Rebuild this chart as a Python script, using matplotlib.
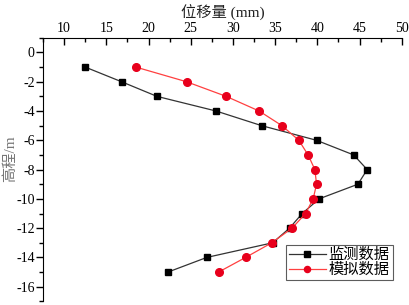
import matplotlib
matplotlib.use("Agg")
import matplotlib.pyplot as plt
from matplotlib.ticker import MultipleLocator

plt.rcParams['font.family'] = ['Liberation Serif', 'Noto Sans CJK SC']
plt.rcParams['axes.unicode_minus'] = False

depth = [-1, -2, -3, -4, -5, -6, -7, -8, -9, -10, -11, -12, -13, -14, -15]
monitor = [12.5, 16.8, 21.0, 28.0, 33.4, 39.9, 44.3, 45.9, 44.8, 40.2, 38.2, 36.7, 34.7, 26.9, 22.3]
simulate = [18.5, 24.5, 29.2, 33.1, 35.8, 37.8, 38.9, 39.7, 39.9, 39.5, 38.6, 37.0, 34.6, 31.5, 28.3]

fig = plt.figure(figsize=(4.1, 3.05), dpi=100)
ax = fig.add_axes([0.105, 0.012, 0.875, 0.864])

ax.plot(monitor, depth, color='#333333', lw=0.9, marker='s', ms=5,
        mfc='black', mec='black', label='监测数据')
ax.plot(simulate, depth, color='#ff4040', lw=0.9, marker='o', ms=5.5,
        mfc='#e8001c', mec='#e8001c', label='模拟数据')

ax.set_xlim(7.5, 50)
ax.set_ylim(-17, 1)
ax.xaxis.set_major_locator(MultipleLocator(5))
ax.xaxis.set_minor_locator(MultipleLocator(2.5))
ax.yaxis.set_major_locator(MultipleLocator(2))
ax.yaxis.set_minor_locator(MultipleLocator(1))
ax.set_yticks(range(0, -17, -2))

ax.xaxis.tick_top()
ax.xaxis.set_label_position('top')
ax.spines['right'].set_visible(False)
ax.spines['bottom'].set_visible(False)

ax.tick_params(axis='x', which='major', direction='in', length=5, width=1, labelsize=10, pad=2)
ax.tick_params(axis='x', which='minor', direction='in', length=3, width=1)
ax.tick_params(axis='y', which='major', direction='out', length=5, width=1, labelsize=10, pad=1)
ax.tick_params(axis='y', which='minor', direction='out', length=3, width=1)

ax.set_xlabel('位移量 (mm)', fontsize=11, labelpad=3, color='#222222')
ax.set_ylabel('高程/m', fontsize=11, color='#777777')
ax.yaxis.set_label_coords(-0.072, 0.54)

leg = ax.legend(loc='lower right', bbox_to_anchor=(0.975, 0.08), fontsize=11,
                frameon=True, fancybox=False, edgecolor='#333333',
                handlelength=2.4, handletextpad=0.2, borderpad=0.2,
                labelspacing=0.05, borderaxespad=0, markerscale=0.8)
leg.get_frame().set_linewidth(0.8)

fig.savefig('out.png', dpi=100)
